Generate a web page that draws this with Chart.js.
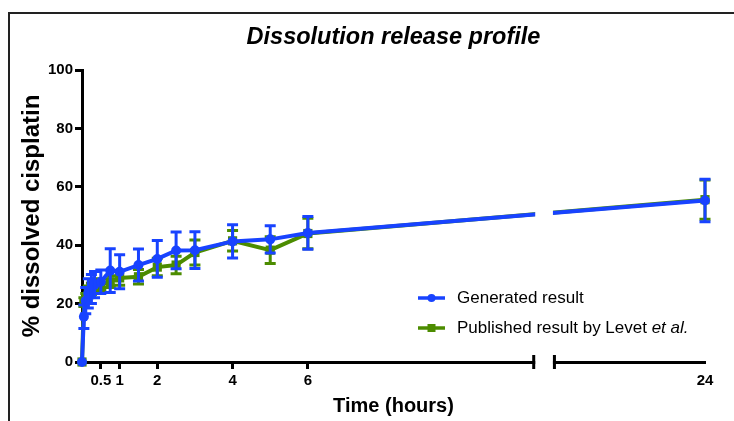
<!DOCTYPE html>
<html>
<head>
<meta charset="utf-8">
<script src="https://cdn.jsdelivr.net/npm/chart.js@4.4.0/dist/chart.umd.min.js"></script>
<style>
body{margin:0;background:#fff;}
#wrap{position:relative;width:734px;height:421px;overflow:hidden;}
#frame{position:absolute;left:8px;top:12px;width:800px;height:500px;border:2px solid #222;}
#chart{position:absolute;left:0;top:0;}
</style>
</head>
<body>
<div id="wrap"><div id="frame"></div><canvas id="chart" width="734" height="421"></canvas></div>
<script>
/* data (hours, % dissolved) */
var times = [0, 0.05, 0.1, 0.167, 0.25, 0.333, 0.5, 0.75, 1, 1.5, 2, 2.5, 3, 4, 5, 6, 24];
var generated    = [0, 15.5, 21, 23.5, 25, 26.5, 27.5, 31.3, 30.9, 33.2, 35.3, 38.2, 38.3, 41.3, 42.0, 44.2, 55.3];
var generatedErr = [0, 4, 4.5, 5, 5, 4.5, 4, 7.5, 5.8, 5.5, 6.3, 6.3, 6.3, 5.7, 4.7, 5.6, 7.3];
var published    = [0, 20.5, 22, 24, 25, 25.5, 26.5, 27.5, 28.8, 29.2, 32.5, 33.2, 37.5, 41.5, 38.3, 44.0, 55.6];
var publishedErr = [0, 1.5, 1.5, 2, 2, 2, 2, 2, 2.5, 2.5, 3, 3, 4.3, 3.5, 4.6, 5.2, 6.7];
var xTickHours = [0.5, 1, 2, 4, 6, 24];
var yTicks = [0, 20, 40, 60, 80, 100];

var BLUE = '#1843ff';
var GREEN = '#4c8c00';
var FONT = 'Arial, "Liberation Sans", Helvetica, sans-serif';

// broken x axis: 0-12 h, gap, then 20-24 h
var breakFrom = 12, breakTo = 20, breakGap = 0.55;
function toAxis(h){ return h <= breakFrom ? h : h - breakTo + breakFrom + breakGap; }
function fromAxis(v){ return v <= breakFrom ? v : v - breakFrom - breakGap + breakTo; }

function pts(vals){
  return times.map(function(t, i){ return {x: toAxis(t), y: vals[i]}; });
}

Chart.defaults.font.family = FONT;
Chart.defaults.color = '#000';

// -------- error bars, drawn right after each dataset --------
var errorBars = {
  id: 'errorBars',
  afterDatasetDraw: function(chart, args){
    var ds = chart.data.datasets[args.index];
    var errs = ds.errors;
    if (!errs) return;
    var ctx = chart.ctx, xs = chart.scales.x, ys = chart.scales.y;
    ctx.save();
    ctx.strokeStyle = ds.borderColor;
    ctx.lineWidth = 3;
    ds.data.forEach(function(p, i){
      var e = errs[i];
      if (!e) return;
      var x = xs.getPixelForValue(p.x);
      var yt = ys.getPixelForValue(p.y + e), yb = ys.getPixelForValue(p.y - e);
      ctx.beginPath();
      ctx.moveTo(x, yt); ctx.lineTo(x, yb);
      ctx.moveTo(x - 5.5, yt); ctx.lineTo(x + 5.5, yt);
      ctx.moveTo(x - 5.5, yb); ctx.lineTo(x + 5.5, yb);
      ctx.stroke();
    });
    ctx.restore();
  }
};

// -------- axis break --------
var axisBreak = {
  id: 'axisBreak',
  afterDatasetsDraw: function(chart){
    var ctx = chart.ctx, xs = chart.scales.x, ys = chart.scales.y;
    var x1 = xs.getPixelForValue(breakFrom), x2 = xs.getPixelForValue(breakFrom + breakGap);
    var b = chart.chartArea.bottom;
    ctx.save();
    ctx.fillStyle = '#fff';
    var yTop = ys.getPixelForValue(58), yBot = ys.getPixelForValue(44);
    ctx.fillRect(x1 + 1.5, yTop, x2 - x1 - 3, yBot - yTop);
    ctx.fillRect(x1 + 1.5, b - 4, x2 - x1 - 3, 8);
    ctx.strokeStyle = '#000';
    ctx.lineWidth = 3;
    ctx.beginPath();
    ctx.moveTo(x1, b - 7); ctx.lineTo(x1, b + 7);
    ctx.moveTo(x2, b - 7); ctx.lineTo(x2, b + 7);
    ctx.stroke();
    ctx.restore();
  }
};

// -------- legend (mixed italic text) --------
var customLegend = {
  id: 'customLegend',
  afterDraw: function(chart){
    var ctx = chart.ctx;
    var rows = [
      {color: BLUE, style: 'circle', text: 'Generated result', italic: ''},
      {color: GREEN, style: 'rect', text: 'Published result by Levet ', italic: 'et al.'}
    ];
    var lx = 418, ly = 298, step = 30;
    ctx.save();
    rows.forEach(function(r, i){
      var y = ly + i * step;
      ctx.strokeStyle = r.color; ctx.fillStyle = r.color; ctx.lineWidth = 3.5;
      ctx.beginPath(); ctx.moveTo(lx, y); ctx.lineTo(lx + 27, y); ctx.stroke();
      if (r.style === 'circle') {
        ctx.beginPath(); ctx.arc(lx + 13.5, y, 4, 0, Math.PI * 2); ctx.fill();
      } else {
        ctx.fillRect(lx + 9.5, y - 4, 8, 8);
      }
      ctx.fillStyle = '#000';
      ctx.textBaseline = 'middle';
      ctx.font = '17px ' + FONT;
      ctx.fillText(r.text, lx + 39, y);
      if (r.italic) {
        var w = ctx.measureText(r.text).width;
        ctx.font = 'italic 17px ' + FONT;
        ctx.fillText(r.italic, lx + 39 + w, y);
      }
    });
    ctx.restore();
  }
};

var ctx = document.getElementById('chart').getContext('2d');
var chart = new Chart(ctx, {
  type: 'line',
  data: {
    datasets: [{
      label: 'Generated result',
      data: pts(generated),
      errors: generatedErr,
      borderColor: BLUE,
      backgroundColor: BLUE,
      borderWidth: 4,
      pointStyle: 'circle',
      pointRadius: 5,
      pointBorderWidth: 0,
      tension: 0,
      clip: false
    }, {
      label: 'Published result by Levet et al.',
      data: pts(published),
      errors: publishedErr,
      borderColor: GREEN,
      backgroundColor: GREEN,
      borderWidth: 4,
      pointStyle: 'rect',
      pointRadius: 6.5,
      pointBorderWidth: 0,
      tension: 0,
      clip: false
    }]
  },
  options: {
    responsive: false,
    animation: false,
    devicePixelRatio: 1,
    layout: { padding: { left: 0, right: 29, top: 0, bottom: 0 } },
    plugins: {
      legend: { display: false },
      tooltip: { enabled: false },
      title: {
        display: true,
        fullSize: false,
        text: 'Dissolution release profile',
        color: '#000',
        font: { size: 23.5, weight: 'bold', style: 'italic' },
        padding: { top: 23, bottom: 18.8 }
      }
    },
    scales: {
      x: {
        type: 'linear',
        min: 0,
        max: toAxis(24),
        afterBuildTicks: function(scale){
          scale.ticks = xTickHours.map(function(h){ return {value: toAxis(h)}; });
        },
        afterFit: function(scale){ scale.height = 59; },
        border: { color: '#000', width: 3 },
        grid: {
          drawOnChartArea: false, drawTicks: true, tickLength: 7, tickWidth: 3,
          tickColor: function(c){ return c.tick && c.tick.value > breakFrom ? 'rgba(0,0,0,0)' : '#000'; }
        },
        ticks: {
          autoSkip: false, maxRotation: 0, padding: 3, color: '#000',
          font: { size: 15, weight: 'bold' },
          callback: function(v){ return String(Math.round(fromAxis(v) * 100) / 100); }
        },
        title: {
          display: true, text: 'Time (hours)', color: '#000',
          font: { size: 20, weight: 'bold' }, padding: { top: 0, bottom: 3 }
        }
      },
      y: {
        min: 0,
        max: 100,
        afterBuildTicks: function(scale){
          scale.ticks = yTicks.map(function(v){ return {value: v}; });
        },
        afterFit: function(scale){ scale.width = 82; },
        border: { color: '#000', width: 3 },
        grid: { drawOnChartArea: false, drawTicks: true, tickLength: 7, tickWidth: 3, tickColor: '#000' },
        ticks: { padding: 2, color: '#000', font: { size: 15, weight: 'bold' } },
        title: {
          display: true, text: '% dissolved cisplatin', color: '#000',
          font: { size: 24, weight: 'bold' }, padding: { top: 17.6, bottom: 0 }
        }
      }
    }
  },
  plugins: [errorBars, axisBreak, customLegend]
});
</script>
</body>
</html>
